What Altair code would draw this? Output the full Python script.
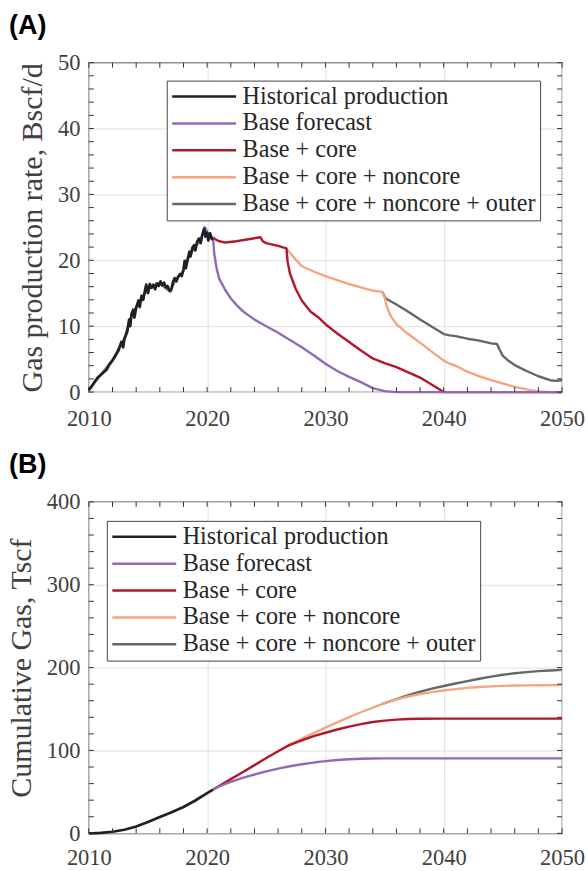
import altair as alt
import pandas as pd

SERIES = ["Historical production", "Base forecast", "Base + core",
          "Base + core + noncore", "Base + core + noncore + outer"]
COLORS = ["#231f20", "#8e6bb5", "#b2182b", "#f4a582", "#666666"]
WIDTHS = [2.7, 2.4, 2.4, 2.4, 2.4]

# ---- Panel A: gas production rate, Bscf/d ----
hist_year = [2010.0, 2010.25, 2010.5, 2010.75, 2011.0, 2011.25, 2011.5, 2011.75,
             2012.0, 2012.25, 2012.5, 2012.75, 2012.9, 2013.0, 2013.25, 2013.4,
             2013.5, 2013.6, 2013.75, 2013.85, 2014.0, 2014.2, 2014.3, 2014.45,
             2014.6, 2014.75, 2014.85, 2015.0, 2015.15, 2015.3, 2015.45, 2015.6,
             2015.75, 2015.9, 2016.05, 2016.2, 2016.35, 2016.5, 2016.65, 2016.8,
             2016.95, 2017.1, 2017.25, 2017.4, 2017.55, 2017.7, 2017.85, 2018.0,
             2018.1, 2018.2, 2018.35, 2018.5, 2018.6, 2018.75, 2018.9, 2019.0,
             2019.15, 2019.3, 2019.45, 2019.6, 2019.75, 2019.85, 2020.0, 2020.1,
             2020.25, 2020.4, 2020.5]
hist_rate = [0.3, 0.9, 1.6, 2.2, 2.6, 3.0, 3.4, 4.2,
             4.8, 5.5, 6.3, 7.6, 6.8, 8.0, 9.2, 11.0,
             10.0, 11.8, 12.5, 11.3, 12.8, 13.9, 12.9, 14.6,
             14.0, 15.5, 16.3, 15.0, 16.4, 15.8, 16.3, 15.6,
             16.5, 16.1, 16.8, 16.2, 16.6, 15.9, 16.1, 15.4,
             15.5, 16.6, 17.3, 16.8, 17.5, 17.9, 17.6, 18.6,
             19.9, 18.8, 20.1, 21.3, 20.6, 21.9, 22.3, 21.5,
             22.8, 23.3, 22.6, 23.9, 24.8, 23.6, 24.2, 23.0,
             24.1, 23.2, 23.4]

base_year = [2010.0, 2011.0, 2012.0, 2013.0, 2013.5, 2014.0, 2014.5, 2015.0,
             2015.5, 2016.0, 2016.5, 2016.9, 2017.3, 2018.0, 2018.5, 2019.0,
             2019.5, 2019.8, 2020.1, 2020.5, 2020.6, 2020.8, 2021.0, 2021.5,
             2022.0, 2022.5, 2023.0, 2024.0, 2025.0, 2026.0, 2027.0, 2028.0,
             2029.0, 2030.0, 2031.0, 2032.0, 2033.0, 2034.0, 2035.0, 2036.0, 2050.0]
base_rate = [0.3, 2.6, 4.9, 8.2, 11.0, 12.9, 14.3, 15.8,
             16.2, 16.5, 15.8, 15.2, 17.0, 18.4, 20.8, 22.0,
             23.4, 25.0, 24.0, 23.4, 21.0, 18.8, 17.3, 15.6,
             14.2, 13.2, 12.3, 11.0, 10.0, 9.0, 7.9, 6.8,
             5.6, 4.3, 3.2, 2.3, 1.5, 0.6, 0.15, 0.0, 0.0]

core_year = [2020.5, 2021.0, 2021.5, 2022.5, 2023.5, 2024.5, 2024.7, 2025.0,
             2026.0, 2026.7, 2026.8, 2027.0, 2027.5, 2028.0, 2028.75, 2029.5,
             2030.0, 2031.0, 2032.0, 2033.0, 2034.0, 2035.0, 2036.0, 2037.0,
             2038.0, 2039.0, 2040.0, 2050.0]
core_rate = [23.4, 22.9, 22.7, 22.9, 23.2, 23.5, 22.9, 22.6,
             22.2, 21.8, 19.8, 18.0, 15.6, 13.9, 12.2, 11.2,
             10.3, 8.9, 7.6, 6.3, 5.1, 4.4, 3.8, 3.0,
             2.2, 1.1, 0.0, 0.0]

noncore_year = [2026.7, 2027.0, 2027.5, 2028.0, 2029.0, 2030.0, 2031.0, 2032.0,
                2033.0, 2034.0, 2034.8, 2035.0, 2035.2, 2035.5, 2036.0, 2037.0,
                2038.0, 2039.0, 2040.0, 2040.5, 2041.0, 2042.0, 2043.0, 2044.0,
                2045.0, 2046.0, 2047.0, 2048.0, 2049.0, 2050.0]
noncore_rate = [21.8, 21.1, 20.1, 19.1, 18.3, 17.6, 17.0, 16.4,
                15.9, 15.4, 15.2, 14.4, 12.9, 11.6, 10.3, 8.8,
                7.5, 6.1, 4.8, 4.3, 4.0, 3.1, 2.4, 1.8,
                1.3, 0.8, 0.4, 0.1, 0.0, 0.0]

outer_year = [2034.8, 2035.1, 2036.0, 2037.0, 2038.0, 2039.0, 2040.0, 2040.5,
              2041.0, 2042.0, 2043.0, 2044.0, 2044.5, 2044.7, 2045.0, 2045.5,
              2046.0, 2047.0, 2048.0, 2049.0, 2049.5, 2050.0]
outer_rate = [15.2, 14.2, 13.3, 12.2, 11.0, 9.9, 8.8, 8.6,
              8.5, 8.1, 7.8, 7.4, 7.3, 6.5, 5.5, 4.7,
              4.1, 3.2, 2.4, 1.8, 1.7, 1.8]

# ---- Panel B: cumulative gas, Tscf ----
hist_cum_year = [2010.0, 2010.5, 2011.0, 2012.0, 2013.0, 2014.0, 2015.0, 2016.0,
                 2017.0, 2018.0, 2019.0, 2020.0, 2020.5]
hist_cum = [0.0, 0.2, 0.6, 1.9, 4.3, 8.3, 13.6, 19.6,
            25.4, 31.8, 39.6, 48.4, 52.8]

base_cum_year = [2020.5, 2021.0, 2022.0, 2023.0, 2024.0, 2025.0, 2026.0, 2027.0,
                 2028.0, 2029.0, 2030.0, 2031.0, 2032.0, 2033.0, 2034.0, 2035.0, 2050.0]
base_cum = [52.8, 56.5, 62.1, 66.9, 71.0, 74.7, 78.0, 80.9,
            83.3, 85.4, 87.1, 88.5, 89.4, 90.0, 90.3, 90.4, 90.4]

core_cum_year = [2020.5, 2021.0, 2022.0, 2023.0, 2024.0, 2025.0, 2026.0, 2026.7,
                 2027.0, 2028.0, 2029.0, 2030.0, 2031.0, 2032.0, 2033.0, 2034.0,
                 2035.0, 2036.0, 2037.0, 2038.0, 2040.0, 2050.0]
core_cum = [52.8, 57.0, 65.4, 73.8, 82.3, 90.8, 99.0, 104.6,
            106.8, 112.3, 117.3, 121.4, 125.3, 128.8, 131.8, 134.3,
            136.0, 137.2, 137.9, 138.2, 138.4, 138.4]

noncore_cum_year = [2026.7, 2027.0, 2028.0, 2029.0, 2030.0, 2031.0, 2032.0, 2033.0,
                    2034.0, 2035.0, 2036.0, 2037.0, 2038.0, 2039.0, 2040.0, 2041.0,
                    2042.0, 2043.0, 2044.0, 2045.0, 2046.0, 2047.0, 2048.0, 2050.0]
noncore_cum = [104.6, 107.0, 114.2, 121.0, 127.6, 134.0, 140.2, 146.1,
               151.8, 157.2, 161.6, 165.1, 168.0, 170.4, 172.4, 174.1,
               175.5, 176.6, 177.4, 178.0, 178.4, 178.6, 178.7, 178.8]

outer_cum_year = [2034.8, 2035.0, 2036.0, 2037.0, 2038.0, 2039.0, 2040.0, 2041.0,
                  2042.0, 2043.0, 2044.0, 2045.0, 2046.0, 2047.0, 2048.0, 2049.0, 2050.0]
outer_cum = [156.1, 157.2, 162.1, 166.7, 170.9, 174.6, 177.8, 180.8,
             183.7, 186.5, 189.1, 191.4, 193.2, 194.6, 195.7, 196.5, 197.2]

YEAR_TICKS = [2010, 2020, 2030, 2040, 2050]
YEAR_MINOR = list(range(2010, 2051, 2))

W = 474
TICK_LEN = 5
SERIF = "Liberation Serif"
AXIS_GRAY = "#404040"


def frame(pairs):
    parts = []
    for name, xs, ys in pairs:
        parts.append(pd.DataFrame({"year": xs, "value": ys, "series": name}))
    return pd.concat(parts, ignore_index=True)


def panel(df, height, ymax, y_major, y_minor, ytitle, label, lx, ly, xpad):
    xscale = alt.Scale(domain=[2010, 2050], nice=False, zero=False)
    yscale = alt.Scale(domain=[0, ymax], nice=False)
    color = alt.Color(
        "series:N",
        scale=alt.Scale(domain=SERIES, range=COLORS),
        legend=alt.Legend(orient="none", legendX=lx, legendY=ly, title=None),
    )
    xaxis = alt.Axis(values=YEAR_TICKS, format="d", labelPadding=xpad,
                     labelFlush=False, title=None)
    yaxis = alt.Axis(values=y_major, labelPadding=9, title=ytitle,
                     titlePadding=10)
    lines = []
    # later series drawn first so earlier ones sit on top
    for name, sw in reversed(list(zip(SERIES, WIDTHS))):
        lines.append(
            alt.Chart(df)
            .transform_filter(alt.datum.series == name)
            .mark_line(strokeWidth=sw, strokeJoin="round", strokeCap="butt")
            .encode(
                x=alt.X("year:Q", scale=xscale, axis=xaxis),
                y=alt.Y("value:Q", scale=yscale, axis=yaxis),
                color=color,
            )
        )
    # inward minor ticks on all four sides of the box
    xt = pd.DataFrame({"t": YEAR_MINOR})
    yt = pd.DataFrame({"t": y_minor})
    tick = dict(color="#333333", strokeWidth=1)
    tx = alt.X("t:Q", scale=xscale, axis=xaxis)
    ty = alt.Y("t:Q", scale=yscale, axis=yaxis)
    ticks = [
        alt.Chart(xt).mark_rule(**tick).encode(
            x=tx, y=alt.value(height), y2=alt.value(height - TICK_LEN)),
        alt.Chart(xt).mark_rule(**tick).encode(
            x=tx, y=alt.value(0), y2=alt.value(TICK_LEN)),
        alt.Chart(yt).mark_rule(**tick).encode(
            y=ty, x=alt.value(0), x2=alt.value(TICK_LEN)),
        alt.Chart(yt).mark_rule(**tick).encode(
            y=ty, x=alt.value(W), x2=alt.value(W - TICK_LEN)),
    ]
    return alt.layer(*lines, *ticks).properties(
        width=W,
        height=height,
        title=alt.TitleParams(
            text=label, anchor="start", frame="group", dx=-80, offset=12,
            font="Liberation Sans", fontSize=27, fontWeight="bold",
            color="black",
        ),
    )


df_rate = frame([
    ("Historical production", hist_year, hist_rate),
    ("Base forecast", base_year, base_rate),
    ("Base + core", core_year, core_rate),
    ("Base + core + noncore", noncore_year, noncore_rate),
    ("Base + core + noncore + outer", outer_year, outer_rate),
])
df_cum = frame([
    ("Historical production", hist_cum_year, hist_cum),
    ("Base forecast", base_cum_year, base_cum),
    ("Base + core", core_cum_year, core_cum),
    ("Base + core + noncore", noncore_cum_year, noncore_cum),
    ("Base + core + noncore + outer", outer_cum_year, outer_cum),
])

panel_a = panel(df_rate, 330, 50, [0, 10, 20, 30, 40, 50], list(range(0, 51, 2)),
                "Gas production rate, Bscf/d", "(A)", 78, 18, 15)
panel_b = panel(df_cum, 332, 400, [0, 100, 200, 300, 400], list(range(0, 401, 20)),
                "Cumulative Gas, Tscf", "(B)", 18, 19, 13)

chart = (
    alt.vconcat(panel_a, panel_b, spacing=19)
    .resolve_scale(color="independent")
    .resolve_legend(color="independent")
    .configure(background="white",
               padding={"left": 5, "top": 10, "right": 2, "bottom": 0})
    .configure_view(stroke="#333333", strokeWidth=1.2)
    .configure_axis(
        grid=True, gridColor="#e0e0e0", gridWidth=1,
        ticks=False, domain=False,
        labelFont=SERIF, labelFontSize=22.5, labelColor=AXIS_GRAY,
        titleFont=SERIF, titleFontSize=30, titleFontWeight="normal",
        titleColor=AXIS_GRAY,
    )
    .configure_legend(
        symbolType="stroke", symbolSize=4096, symbolStrokeWidth=2.5,
        clipHeight=24, rowPadding=1.9, labelOffset=5,
        labelFont=SERIF, labelFontSize=24.2, labelColor="#262626",
        labelLimit=0,
        strokeColor="#444444", fillColor="white", padding=4,
    )
)

chart.save("out.html", embed_options={"renderer": "svg", "actions": False})
